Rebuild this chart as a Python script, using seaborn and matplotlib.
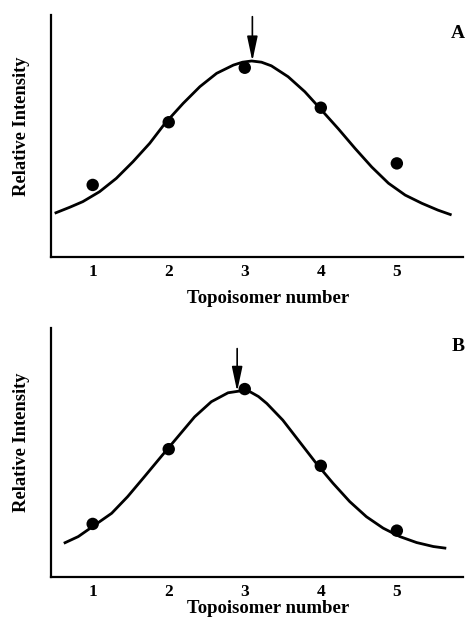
import numpy as np
import pandas as pd
import matplotlib
matplotlib.use("Agg")
import matplotlib.pyplot as plt
import seaborn as sns

# ── data (arbitrary intensity units, 0 = x-axis, 1 = top of y-axis) ──
topo_a = [1, 2, 3, 4, 5]
int_a = [0.298, 0.557, 0.782, 0.617, 0.387]
curve_a_x = [0.50, 0.70, 0.87, 1.09, 1.31, 1.53, 1.75, 1.95, 2.19, 2.41, 2.63, 2.85, 2.97, 3.09,
             3.22, 3.35, 3.57, 3.79, 4.01, 4.23, 4.45, 4.67, 4.89, 5.11, 5.33, 5.54, 5.72]
curve_a_y = [0.181, 0.206, 0.229, 0.270, 0.325, 0.394, 0.470, 0.552, 0.635, 0.704, 0.759, 0.793, 0.805, 0.810,
             0.805, 0.790, 0.745, 0.683, 0.607, 0.530, 0.449, 0.372, 0.305, 0.256, 0.222, 0.194, 0.174]
peak_a = 3.10

topo_b = [1, 2, 3, 4, 5]
int_b = [0.212, 0.513, 0.755, 0.446, 0.185]
curve_b_x = [0.62, 0.81, 1.03, 1.25, 1.46, 1.68, 1.90, 2.12, 2.34, 2.56, 2.78, 2.93, 3.07,
             3.18, 3.29, 3.50, 3.72, 3.94, 4.16, 4.38, 4.60, 4.82, 5.04, 5.26, 5.48, 5.65]
curve_b_y = [0.134, 0.161, 0.208, 0.255, 0.322, 0.402, 0.483, 0.563, 0.643, 0.704, 0.740, 0.747, 0.744,
             0.725, 0.697, 0.630, 0.543, 0.456, 0.376, 0.302, 0.241, 0.195, 0.161, 0.137, 0.121, 0.114]
peak_b = 2.90

x_ticks = [1, 2, 3, 4, 5]

sns.set_style("white")
plt.rcParams["font.family"] = ["Liberation Serif", "DejaVu Serif"]
plt.rcParams["font.weight"] = "bold"
plt.rcParams["text.color"] = "black"
plt.rcParams["axes.labelcolor"] = "black"
plt.rcParams["xtick.color"] = "black"
plt.rcParams["lines.solid_capstyle"] = "butt"
plt.rcParams["lines.solid_joinstyle"] = "round"

fig = plt.figure(figsize=(4.71, 6.24), dpi=100)
ax_a = fig.add_axes([0.108, 0.588, 0.875, 0.388])
ax_b = fig.add_axes([0.108, 0.076, 0.875, 0.398])


def draw_panel(ax, tx, ty, cx, cy, peak, arrow_top, letter, xlabel_y):
    sns.lineplot(x=cx, y=cy, ax=ax, color="black", linewidth=2.0, sort=False)
    sns.scatterplot(x=tx, y=ty, ax=ax, color="black", s=80, edgecolor="none", zorder=5)
    tip = np.interp(peak, cx, cy)
    ax.annotate("", xy=(peak, tip), xytext=(peak, arrow_top),
                arrowprops=dict(arrowstyle="-|>,head_length=0.75,head_width=0.16",
                                color="black", lw=1.2, mutation_scale=20,
                                shrinkA=0, shrinkB=0))
    ax.set_xlim(0.45, 5.87)
    ax.set_ylim(0, 1)
    ax.set_xticks(x_ticks)
    ax.set_xticklabels([str(t) for t in x_ticks], fontsize=12.5, fontweight="bold")
    ax.set_yticks([])
    ax.tick_params(axis="x", length=0, pad=5)
    for side in ["top", "right"]:
        ax.spines[side].set_visible(False)
    for side in ["left", "bottom"]:
        ax.spines[side].set_linewidth(1.6)
        ax.spines[side].set_color("black")
    ax.set_xlabel("Topoisomer number", fontsize=13.5, fontweight="bold")
    ax.xaxis.set_label_coords(0.527, xlabel_y)
    ax.set_ylabel("Relative Intensity", fontsize=13.3, fontweight="bold")
    ax.yaxis.set_label_coords(-0.05, 0.54)
    ax.text(0.988, 0.925, letter, transform=ax.transAxes, ha="center", va="center",
            fontsize=14, fontweight="bold")


draw_panel(ax_a, topo_a, int_a, curve_a_x, curve_a_y, peak_a, 0.993, "A", -0.135)
draw_panel(ax_b, topo_b, int_b, curve_b_x, curve_b_y, peak_b, 0.918, "B", -0.094)

fig.savefig("out.png", dpi=100)
